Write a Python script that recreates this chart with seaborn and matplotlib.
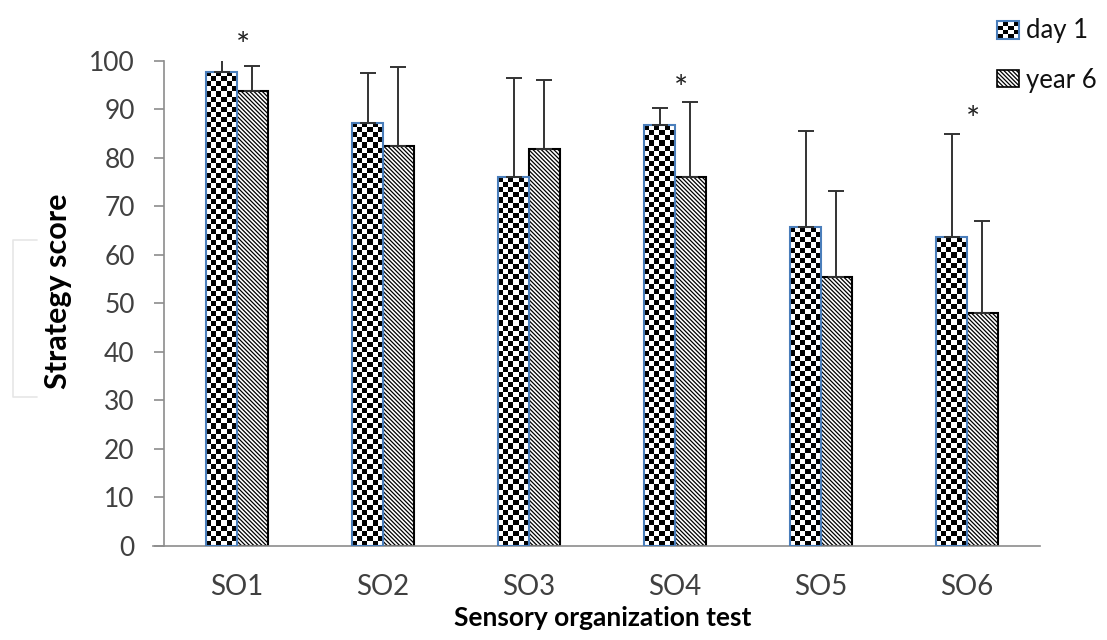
import numpy as np
import pandas as pd
import matplotlib
matplotlib.use("Agg")
import matplotlib.pyplot as plt
import seaborn as sns
from matplotlib.patches import Rectangle
from matplotlib.legend_handler import HandlerBase
from matplotlib.lines import Line2D

# -----------------------------------------------------------
# data
tests = ["SO1", "SO2", "SO3", "SO4", "SO5", "SO6"]
sessions = ["day 1", "year 6"]
day1_mean = [97.7, 87.2, 76.0, 86.7, 65.7, 63.6]
day1_err = [2.6, 10.3, 20.4, 3.5, 19.8, 21.3]
year6_mean = [93.8, 82.4, 81.9, 76.0, 55.4, 48.0]
year6_err = [5.2, 16.2, 14.1, 15.4, 17.7, 18.9]
significant = ["SO1", "SO4", "SO6"]

df = pd.DataFrame({
    "test": tests * 2,
    "session": ["day 1"] * 6 + ["year 6"] * 6,
    "score": day1_mean + year6_mean,
    "err": day1_err + year6_err,
})

# -----------------------------------------------------------
sns.set_style("white")
plt.rcParams["font.family"] = ["Lato", "DejaVu Sans"]
plt.rcParams["hatch.linewidth"] = 0.9

blue = "#4a7ebb"
txt = "#404040"
axis_grey = "#8c8c8c"
HATCH = "\\" * 8

fig = plt.figure(figsize=(11.07, 6.4), dpi=100)
ax = fig.add_axes([153 / 1107, 1 - 546 / 640, 887 / 1107, (546 - 60.7) / 640])

sns.barplot(data=df, x="test", y="score", hue="session", order=tests,
            hue_order=sessions, width=0.42, errorbar=None,
            palette=["white", "white"], legend=False, ax=ax, zorder=2)

ax.set_xlim(-0.575, 5.5)
ax.set_ylim(0, 100)
fig.canvas.draw()

day_bars, year_bars = ax.containers[0], ax.containers[1]

# checkerboard texture for day 1 bars
for p in day_bars:
    p.set_facecolor("none")
    p.set_edgecolor(blue)
    p.set_linewidth(1.5)
    p.set_zorder(3)
    x0, w, h = p.get_x(), p.get_width(), p.get_height()
    (px0, py0), (px1, py1) = ax.transData.transform([(x0, 0), (x0 + w, h)])
    ncol = 6
    sq = (px1 - px0) / ncol
    nrow = max(1, int(round((py1 - py0) / sq)))
    ii, jj = np.indices((nrow, ncol))
    board = ((ii + jj) % 2).astype(float)
    im = ax.imshow(board, cmap="gray", extent=(x0, x0 + w, 0, h),
                   aspect="auto", interpolation="nearest", zorder=2.5)
    im.set_clip_path(p)

for p in year_bars:
    p.set_facecolor("white")
    p.set_edgecolor("black")
    p.set_linewidth(1.5)
    p.set_hatch(HATCH)
    p.set_zorder(2)

ax.set_xlim(-0.575, 5.5)
ax.set_ylim(0, 100)

# upper error bars only
for bars, means, errs in [(day_bars, day1_mean, day1_err), (year_bars, year6_mean, year6_err)]:
    xs = [p.get_x() + p.get_width() / 2 for p in bars]
    ax.errorbar(xs, means, yerr=[np.zeros(len(errs)), errs], fmt="none",
                ecolor="#333333", elinewidth=1.4, capsize=6, capthick=1.4, zorder=4)

# significance stars
for name in significant:
    i = tests.index(name)
    top = max(day1_mean[i] + day1_err[i], year6_mean[i] + year6_err[i])
    ax.text(i + 0.04, top + 2.6, "*", ha="center", va="center",
            fontsize=24, color="#222222")

# axes styling
sns.despine(ax=ax)
ax.spines["left"].set_bounds(0, 100)
ax.spines["left"].set_position(("data", -0.5))
for s in ["left", "bottom"]:
    ax.spines[s].set_color(axis_grey)
    ax.spines[s].set_linewidth(1.2)
ax.set_yticks(range(0, 101, 10))
ax.tick_params(axis="y", length=7, width=1.2, color=axis_grey, pad=14,
               labelsize=19, labelcolor=txt, left=True)
ax.tick_params(axis="x", length=0, pad=20, labelsize=20, labelcolor=txt)
ax.set_xlabel("")
ax.set_ylabel("")

fig.text(603 / 1107, 1 - 618 / 640, "Sensory organization test", ha="center",
         va="center", fontsize=19, fontweight="bold", color="black")
fig.text(58 / 1107, 1 - 291 / 640, "Strategy score", ha="center", va="center",
         rotation=90, fontsize=22, fontweight="bold", color="black")

# faint bracket left of the y label
fig.add_artist(Line2D([37 / 1107, 13 / 1107, 13 / 1107, 37 / 1107],
                      [1 - 240 / 640, 1 - 240 / 640, 1 - 397 / 640, 1 - 397 / 640],
                      color="#e6e6e6", lw=1.2))


# legend with a checkerboard swatch
class CheckerHandler(HandlerBase):
    def create_artists(self, legend, orig, xd, yd, width, height, fontsize, trans):
        arts = [Rectangle((xd, yd), width, height, facecolor="white",
                          edgecolor="none", transform=trans)]
        n = 4
        for r in range(n):
            for c in range(n):
                if (r + c) % 2 == 0:
                    arts.append(Rectangle((xd + c * width / n, yd + r * height / n),
                                          width / n, height / n, facecolor="black",
                                          edgecolor="none", transform=trans))
        arts.append(Rectangle((xd, yd), width, height, facecolor="none",
                              edgecolor=blue, lw=1.5, transform=trans))
        return arts


h_day = Rectangle((0, 0), 1, 1)
h_year = Rectangle((0, 0), 1, 1, facecolor="white", edgecolor="black",
                   hatch=HATCH, lw=1.2)
fig.legend([h_day, h_year], sessions, handler_map={h_day: CheckerHandler()},
           loc="upper left", bbox_to_anchor=(987 / 1107, 1 - 8 / 640),
           frameon=False, fontsize=18.5, handlelength=0.86, handleheight=0.66,
           handletextpad=0.25, labelspacing=0.95, borderaxespad=0,
           labelcolor="#111111")

fig.savefig("out.png", dpi=100)
